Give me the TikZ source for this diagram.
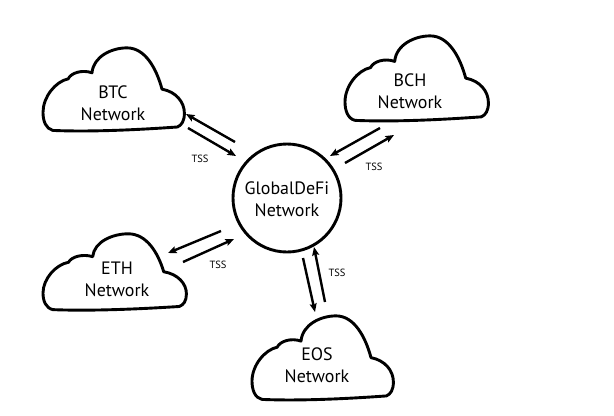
\documentclass[tikz,border=0pt]{standalone}
\usepackage{fontspec}
\setmainfont{PT Sans}
\usetikzlibrary{arrows.meta}
\tikzset{
  cloudline/.style={line width=2.9bp, line join=round},
  ringline/.style={line width=2.9bp},
  label/.style={font=\fontsize{18}{22}\selectfont, align=center, inner sep=0pt},
  tsslabel/.style={font=\fontsize{10.5}{12}\selectfont, inner sep=0pt},
  flow/.style={line width=2.4bp, -{Stealth[length=8.5bp,width=7bp,inset=1.5bp]}}
}
\newcommand{\cloudshape}[4]{%
  \begin{scope}[shift={(#1,#2)}, xscale=#3/100, yscale=#4/100]
    \draw[cloudline] (7,97) .. controls (2,95) and (0,86) .. (0,76)
      .. controls (0,58) and (9,40) .. (18,37)
      .. controls (20,30) and (28,26) .. (35,30)
      .. controls (36,11) and (49,1) .. (60,1)
      .. controls (73,1) and (81,25) .. (85,49)
      .. controls (95,52) and (101,64) .. (101,77)
      .. controls (101,86) and (99,91) .. (96,93)
      .. controls (70,96) and (35,99) .. cycle;
  \end{scope}}
\begin{document}
\begin{tikzpicture}[x=1bp,y=-1bp]
\useasboundingbox (0,0) rectangle (614,415);
\fill[white] (0,0) rectangle (614,415);
% clouds
\cloudshape{43}{47}{140}{86}
\cloudshape{345}{35}{142}{88}
\cloudshape{43}{233}{142}{79}
\cloudshape{252}{315}{140}{87}
\node[label] (btc) at (113,103) {BTC\\Network};
\node[label] (bch) at (410,91) {BCH\\Network};
\node[label] (eth) at (117,279) {ETH\\Network};
\node[label] (eos) at (317,365) {EOS\\Network};
% central circle
\node[ringline, draw, circle, minimum size=108bp, inner sep=0pt] (gd) at (287,198) {};
\node[label] (gdt) at (287,199) {GlobalDeFi\\Network};
% arrow endpoints
\coordinate (b1s) at (235,142); \coordinate (b1e) at (186,114);
\coordinate (b2s) at (188,128); \coordinate (b2e) at (236,156);
\coordinate (c1s) at (380,128); \coordinate (c1e) at (330,156);
\coordinate (c2s) at (345,163); \coordinate (c2e) at (394,135);
\coordinate (e1s) at (221,231); \coordinate (e1e) at (168,253);
\coordinate (e2s) at (183,262); \coordinate (e2e) at (234,239);
\coordinate (o1s) at (303,258); \coordinate (o1e) at (315,312);
\coordinate (o2s) at (325,302); \coordinate (o2e) at (314,247);
\draw[flow] (b1s) -- (b1e);
\draw[flow] (b2s) -- (b2e);
\draw[flow] (c1s) -- (c1e);
\draw[flow] (c2s) -- (c2e);
\draw[flow] (e1s) -- (e1e);
\draw[flow] (e2s) -- (e2e);
\draw[flow] (o1s) -- (o1e);
\draw[flow] (o2s) -- (o2e);
% labels
\node[tsslabel] (t1) at (200,159) {TSS};
\node[tsslabel] (t2) at (374,167) {TSS};
\node[tsslabel] (t3) at (218,265) {TSS};
\node[tsslabel] (t4) at (337,273) {TSS};
\end{tikzpicture}
\end{document}
